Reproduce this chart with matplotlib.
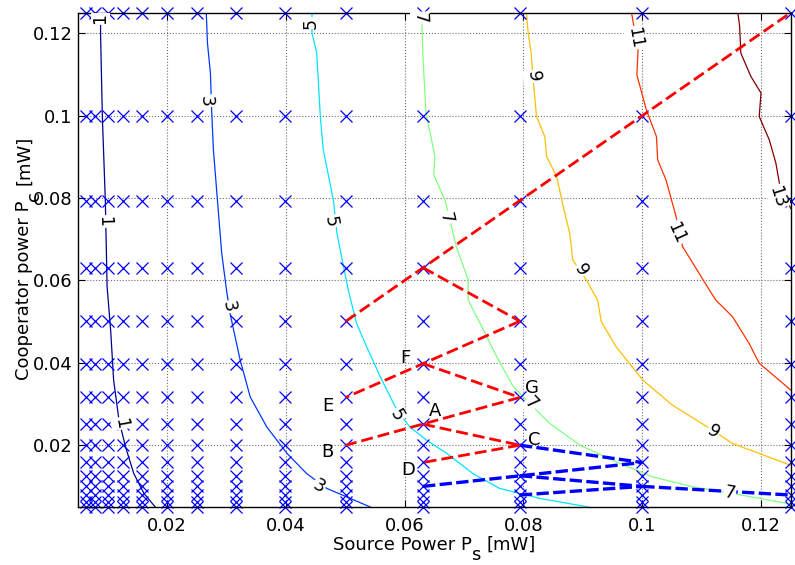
import numpy as np
import matplotlib
matplotlib.use("Agg")
import matplotlib.pyplot as plt

plt.rcParams['font.family'] = ['DejaVu Sans']

# sampling grid of powers (mW), 1 dB steps
ps_grid = [0.0063, 0.0079, 0.01, 0.0126, 0.0158, 0.02, 0.0251, 0.0316,
           0.0398, 0.0501, 0.0631, 0.0794, 0.1, 0.125]
pc_grid = [0.005, 0.0063, 0.0079, 0.01, 0.0126, 0.0158, 0.02, 0.0251, 0.0316,
           0.0398, 0.0501, 0.0631, 0.0794, 0.1, 0.125]

# iso-lines
c1_x = [0.0088, 0.0088, 0.0091, 0.0096, 0.0099, 0.0105, 0.0110, 0.0119, 0.0130, 0.0144, 0.0161, 0.0180]
c1_y = [0.125, 0.1201, 0.0998, 0.0795, 0.0585, 0.0479, 0.0358, 0.0261, 0.0196, 0.0131, 0.0083, 0.005]
c3_x = [0.0266, 0.0268, 0.0273, 0.0275, 0.0278, 0.0287, 0.0292, 0.0300, 0.0306, 0.0323,
        0.0340, 0.0368, 0.0402, 0.0435, 0.0469, 0.0508, 0.0542]
c3_y = [0.125, 0.1176, 0.1103, 0.1014, 0.0917, 0.0755, 0.0666, 0.0577, 0.0520, 0.0407,
        0.0317, 0.0244, 0.0180, 0.0131, 0.0095, 0.0071, 0.005]
c5_x = [0.0444, 0.0444, 0.0452, 0.0458, 0.0463, 0.0480, 0.0486, 0.0505, 0.0519, 0.0536,
        0.0559, 0.0587, 0.0609, 0.0637, 0.0671, 0.0715, 0.0760, 0.0827, 0.0909]
c5_y = [0.125, 0.12, 0.1152, 0.0998, 0.0917, 0.0795, 0.0714, 0.0577, 0.0496, 0.0439,
        0.0366, 0.0285, 0.0244, 0.0212, 0.0180, 0.0131, 0.0095, 0.0071, 0.005]
c7_x = [0.0628, 0.0629, 0.0631, 0.0636, 0.0651, 0.0649, 0.0668, 0.0676, 0.0687, 0.0707,
        0.0707, 0.0727, 0.0755, 0.0783, 0.0811, 0.0844, 0.0895, 0.0962, 0.1018, 0.1085,
        0.1152, 0.125]
c7_y = [0.125, 0.1221, 0.1136, 0.1006, 0.0901, 0.0856, 0.0795, 0.0747, 0.0682, 0.0601,
        0.0552, 0.0496, 0.0415, 0.0342, 0.0301, 0.0253, 0.02, 0.0156, 0.0123, 0.0099,
        0.0083, 0.0057]
c9_x = [0.0805, 0.0808, 0.0813, 0.0816, 0.0822, 0.0836, 0.0839, 0.0856, 0.0867, 0.0878,
        0.0883, 0.0906, 0.0925, 0.0931, 0.0956, 0.1001, 0.1051, 0.1119, 0.1152, 0.1197, 0.125]
c9_y = [0.125, 0.12, 0.1152, 0.1095, 0.0998, 0.0949, 0.0901, 0.0852, 0.0779, 0.0714,
        0.0650, 0.0601, 0.0552, 0.0500, 0.0439, 0.0358, 0.0297, 0.0236, 0.0204, 0.0180, 0.0151]
c11_x = [0.0982, 0.0987, 0.0993, 0.0991, 0.1007, 0.1024, 0.1026, 0.1040, 0.1057, 0.1068,
         0.1113, 0.1124, 0.1152, 0.1180, 0.1197, 0.125]
c11_y = [0.125, 0.1208, 0.1160, 0.1099, 0.1014, 0.0949, 0.0893, 0.0844, 0.0755, 0.0682,
         0.0577, 0.0552, 0.0512, 0.0447, 0.0399, 0.0334]
c13_x = [0.1161, 0.1164, 0.1166, 0.1183, 0.1200, 0.1197, 0.1214, 0.1225, 0.1231, 0.125]
c13_y = [0.125, 0.1217, 0.1152, 0.1095, 0.1055, 0.0998, 0.0941, 0.0885, 0.0836, 0.0775]

levels = [1, 3, 5, 7, 9, 11, 13]
level_colors = ['#00008F', '#0038FF', '#00E4FF', '#80FF80', '#FFC000', '#FF3000', '#800000']

# contour labels
lab_level = [1, 1, 1, 3, 3, 3, 5, 5, 5, 7, 7, 7, 7, 9, 9, 9, 11, 11, 13]
lab_x = [0.0088, 0.0094, 0.0122, 0.0265, 0.0304, 0.0455, 0.0441, 0.0475, 0.0587, 0.0626,
         0.0670, 0.0813, 0.1147, 0.0816, 0.0897, 0.1119, 0.0987, 0.1058, 0.1228]
lab_y = [0.1235, 0.0743, 0.0253, 0.1036, 0.0536, 0.0099, 0.1225, 0.0743, 0.0273, 0.1237,
         0.0752, 0.0301, 0.0083, 0.1095, 0.0625, 0.0232, 0.1189, 0.0715, 0.0803]

# red trajectory segments (start -> end)
red_x0 = [0.0501, 0.0631, 0.0794, 0.0631, 0.0794, 0.0631, 0.0794]
red_y0 = [0.0501, 0.0631, 0.0501, 0.0398, 0.0316, 0.0251, 0.02]
red_x1 = [0.125, 0.0794, 0.0501, 0.0794, 0.0501, 0.0794, 0.0631]
red_y1 = [0.125, 0.0501, 0.0316, 0.0316, 0.02, 0.02, 0.0158]

# blue trajectory segments
blue_x0 = [0.0794, 0.0631, 0.0794, 0.0794, 0.1]
blue_y0 = [0.02, 0.01, 0.0126, 0.0079, 0.01]
blue_x1 = [0.1, 0.1, 0.1, 0.1, 0.125]
blue_y1 = [0.0158, 0.0158, 0.01, 0.01, 0.0079]

pt_names = ['A', 'B', 'C', 'D', 'E', 'F', 'G']
pt_x = [0.0651, 0.0470, 0.0819, 0.0606, 0.0470, 0.0601, 0.0814]
pt_y = [0.0283, 0.0183, 0.0212, 0.0139, 0.0295, 0.0411, 0.0339]

W, H = 795, 565
FS = 13

fig = plt.figure(figsize=(W / 100, H / 100), dpi=100)
ax = fig.add_axes([0.0981, 0.1027, 0.8965, 0.8748])
ax.set_xlim(0.005, 0.125)
ax.set_ylim(0.005, 0.125)

lines_x = [c1_x, c3_x, c5_x, c7_x, c9_x, c11_x, c13_x]
lines_y = [c1_y, c3_y, c5_y, c7_y, c9_y, c11_y, c13_y]
for lx, ly, col in zip(lines_x, lines_y, level_colors):
    ax.plot(lx, ly, color=col, lw=0.9, zorder=2)

gx, gy = np.meshgrid(ps_grid, pc_grid)
ax.plot(gx.ravel(), gy.ravel(), 'x', color='#0000FF', ms=9, mew=0.9,
        clip_on=False, zorder=2.5)

for x0, y0, x1, y1 in zip(red_x0, red_y0, red_x1, red_y1):
    ax.plot([x0, x1], [y0, y1], color='#FF0000', lw=2, dashes=(4.3, 1.8),
            zorder=3, clip_on=False)
for x0, y0, x1, y1 in zip(blue_x0, blue_y0, blue_x1, blue_y1):
    ax.plot([x0, x1], [y0, y1], color='#0000FF', lw=2.4, dashes=(3.7, 1.3),
            zorder=3, clip_on=False)

# contour labels, rotated along the local line direction
for lev, tx, ty in zip(lab_level, lab_x, lab_y):
    i = levels.index(lev)
    pts = ax.transData.transform(np.column_stack([lines_x[i], lines_y[i]]))
    p = ax.transData.transform((tx, ty))
    k = int(np.argmin(np.hypot(pts[:, 0] - p[0], pts[:, 1] - p[1])))
    k0, k1 = max(k - 1, 0), min(k + 1, len(pts) - 1)
    d = pts[k1] - pts[k0]
    ang = np.degrees(np.arctan2(d[1], d[0]))
    if ang > 90:
        ang -= 180
    if ang <= -90:
        ang += 180
    ax.text(tx, ty, str(lev), fontsize=12.5, rotation=ang, ha='center', va='center',
            rotation_mode='anchor', zorder=4,
            bbox=dict(boxstyle='square,pad=0.05', fc='white', ec='none'))

for name, tx, ty in zip(pt_names, pt_x, pt_y):
    ax.text(tx, ty, name, fontsize=FS, ha='center', va='center', zorder=5)

ticks = [0.02, 0.04, 0.06, 0.08, 0.1, 0.12]
tick_labels = ['0.02', '0.04', '0.06', '0.08', '0.1', '0.12']
ax.set_xticks(ticks)
ax.set_xticklabels(tick_labels)
ax.set_yticks(ticks)
ax.set_yticklabels(tick_labels)
ax.tick_params(direction='in', top=True, right=True, length=5, width=0.8, labelsize=FS)
ax.tick_params(axis='x', pad=7)
ax.tick_params(axis='y', pad=4)
ax.grid(True, linestyle=':', color='#707070', lw=0.8)
ax.set_axisbelow(True)
for s in ax.spines.values():
    s.set_linewidth(1.0)

# axis labels with a deep, full size subscript (as in the original rendering)
renderer = fig.canvas.get_renderer()


def text_width(s):
    t = fig.text(0, 0, s, fontsize=FS)
    w = t.get_window_extent(renderer).width
    t.remove()
    return w


def pieced_label(head, sub, tail, start, base, vertical):
    full = head + sub + tail
    total = text_width(full)
    w_head = text_width(head)
    w_tail = text_width(tail.strip())
    s0 = start - total / 2
    rot = 90 if vertical else 0
    pieces = [(head, s0, 0), (sub, s0 + w_head, 10), (tail.strip(), s0 + total - w_tail, 0)]
    for txt, along, drop in pieces:
        if vertical:
            x, y = base + drop, along
        else:
            x, y = along, base - drop
        fig.text(x / W, y / H, txt, fontsize=FS, rotation=rot, ha='left', va='baseline',
                 rotation_mode='anchor')


pieced_label('Source Power P', 's', ' [mW]', 434, H - 550, vertical=False)
pieced_label('Cooperator power P', 'c', ' [mW]', 307, 29, vertical=True)

fig.savefig('out.png', dpi=100)
